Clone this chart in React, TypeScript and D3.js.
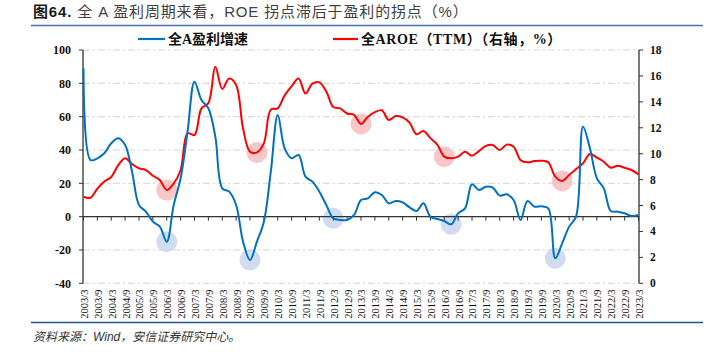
import React from "react";
import * as d3 from "d3";

// quarterly categories, 2003Q1 .. 2023Q1
const quarters = [
  "2003/3", "2003/6", "2003/9", "2003/12", "2004/3", "2004/6", "2004/9", "2004/12",
  "2005/3", "2005/6", "2005/9", "2005/12", "2006/3", "2006/6", "2006/9", "2006/12",
  "2007/3", "2007/6", "2007/9", "2007/12", "2008/3", "2008/6", "2008/9", "2008/12",
  "2009/3", "2009/6", "2009/9", "2009/12", "2010/3", "2010/6", "2010/9", "2010/12",
  "2011/3", "2011/6", "2011/9", "2011/12", "2012/3", "2012/6", "2012/9", "2012/12",
  "2013/3", "2013/6", "2013/9", "2013/12", "2014/3", "2014/6", "2014/9", "2014/12",
  "2015/3", "2015/6", "2015/9", "2015/12", "2016/3", "2016/6", "2016/9", "2016/12",
  "2017/3", "2017/6", "2017/9", "2017/12", "2018/3", "2018/6", "2018/9", "2018/12",
  "2019/3", "2019/6", "2019/9", "2019/12", "2020/3", "2020/6", "2020/9", "2020/12",
  "2021/3", "2021/6", "2021/9", "2021/12", "2022/3", "2022/6", "2022/9", "2022/12",
  "2023/3",
];

const xLabels = [
  "2003/3", "2003/9", "2004/3", "2004/9", "2005/3", "2005/9", "2006/3", "2006/9",
  "2007/3", "2007/9", "2008/3", "2008/9", "2009/3", "2009/9", "2010/3", "2010/9",
  "2011/3", "2011/9", "2012/3", "2012/9", "2013/3", "2013/9", "2014/3", "2014/9",
  "2015/3", "2015/9", "2016/3", "2016/9", "2017/3", "2017/9", "2018/3", "2018/9",
  "2019/3", "2019/9", "2020/3", "2020/9", "2021/3", "2021/9", "2022/3", "2022/9",
  "2023/3",
];

// 全A盈利增速 (left axis, %)
const profitGrowth = [
  89, 34, 35, 38, 44, 47, 43, 27, 7, 3, -3, -6, -15, 7, 23, 51,
  81, 70, 65, 48, 17, 15, 7, -15, -26, -15, -3, 27, 61, 41, 35, 37,
  24, 21, 15, 7, -1, -2, -2, 1, 10, 11, 14.6, 13, 8, 9.4, 8.6, 5.6,
  3.4, 8, 0, -1.4, -2.6, -4.6, 2, 5, 19.4, 16, 18, 17.4, 12.6, 13.4, 10, -2,
  9.4, 6, 6.2, 5, -25, -16, -6, 0, 54, 41, 23, 17, 3.4, 3, 2, 0.4,
  1,
];

// 全A ROE TTM (right axis, %)
const roeTTM = [
  6.68, 6.6, 7.3, 7.85, 8.2, 9.1, 9.64, 9.2, 8.87, 8.74, 8.3, 7.97, 7.2, 7.7, 8.74, 11.57,
  11.44, 13.5, 13.9, 16.7, 15.0, 15.8, 15.3, 11.95, 10.15, 10.1, 10.8, 13.4, 13.5, 14.5, 15.2, 15.8,
  14.65, 15.4, 15.5, 14.8, 13.6, 13.5, 13.1, 13.0, 12.3, 12.85, 13.2, 13.35, 12.6, 12.9, 12.8, 12.4,
  11.5, 11.75, 11.2, 10.7, 9.77, 9.64, 9.77, 10.15, 9.85, 10.2, 10.6, 10.67, 10.28, 10.7, 10.54, 9.5,
  9.33, 9.43, 9.46, 9.33, 8.23, 7.9, 8.35, 8.82, 9.25, 9.97, 9.7, 9.38, 8.92, 9.07, 8.92, 8.74,
  8.4,
];

// turning points highlighted with circles (quarter index)
const growthTroughs = [12, 24, 36, 53, 68];
const roeTroughs = [12, 25, 40, 52, 69];

const leftTicks = [-40, -20, 0, 20, 40, 60, 80, 100];
const rightTicks = [0, 2, 4, 6, 8, 10, 12, 14, 16, 18];

const W = 706;
const H = 354;
const plot = { left: 83.5, right: 638.5, top: 50, bottom: 283.3 };

const serif = "'Liberation Serif', 'Times New Roman', 'Noto Sans CJK SC', serif";
const sans = "'Liberation Sans', Arial, 'Noto Sans CJK SC', sans-serif";

export default function App() {
  const x = d3.scalePoint<string>().domain(quarters).range([plot.left, plot.right]);
  const yL = d3.scaleLinear().domain([-40, 100]).range([plot.bottom, plot.top]);
  const yR = d3.scaleLinear().domain([0, 18]).range([plot.bottom, plot.top]);

  const xi = (i: number) => x(quarters[i]) as number;

  const growthLine = d3
    .line<number>()
    .x((_, i) => xi(i))
    .y((d) => yL(d))
    .curve(d3.curveCatmullRom.alpha(0.5));

  const roeLine = d3
    .line<number>()
    .x((_, i) => xi(i))
    .y((d) => yR(d))
    .curve(d3.curveCatmullRom.alpha(0.5));

  const axisX0 = 83;
  const axisX1 = 639;
  const zeroY = yL(0);

  return (
    <svg width={W} height={H} style={{ position: "absolute", left: 0, top: 0, background: "#fff" }}>
      {/* title */}
      <text x={33} y={16.5} fontFamily={sans} fontSize={15} letterSpacing={0.85} fill="#404040">
        <tspan fontWeight="bold" fill="#1a1a1a">图64.</tspan>
        <tspan> 全 A 盈利周期来看，ROE 拐点滞后于盈利的拐点（%）</tspan>
      </text>
      <line x1={31} x2={703} y1={25.5} y2={25.5} stroke="#4a6fb5" strokeWidth={1.3} />

      {/* legend */}
      <line x1={138} x2={165} y1={39} y2={39} stroke="#0070C0" strokeWidth={2.2} />
      <text x={168} y={44} fontFamily={serif} fontWeight="bold" fontSize={14} fill="#111">
        全A盈利增速
      </text>
      <line x1={333} x2={358} y1={39} y2={39} stroke="#FF0000" strokeWidth={2.2} />
      <text x={361} y={44} fontFamily={serif} fontWeight="bold" fontSize={14} letterSpacing={0.6} fill="#111">
        全AROE（TTM）（右轴，%）
      </text>

      {/* gridlines */}
      {leftTicks.map((t) => (
        <line
          key={"g" + t}
          x1={axisX0}
          x2={axisX1}
          y1={yL(t)}
          y2={yL(t)}
          stroke="#d4d4d4"
          strokeWidth={1}
          strokeDasharray="7 3 2 3"
        />
      ))}

      {/* trough highlights */}
      {growthTroughs.map((i) => (
        <circle key={"bc" + i} cx={xi(i)} cy={yL(profitGrowth[i])} r={10.5} fill="#c9d6ee" opacity={0.85} />
      ))}
      {roeTroughs.map((i) => (
        <circle key={"rc" + i} cx={xi(i)} cy={yR(roeTTM[i])} r={10.5} fill="#f7b9b9" opacity={0.8} />
      ))}

      {/* axes */}
      <line x1={axisX0} x2={axisX0} y1={plot.top} y2={plot.bottom} stroke="#333" strokeWidth={1.3} />
      <line x1={axisX1} x2={axisX1} y1={plot.top} y2={plot.bottom} stroke="#333" strokeWidth={1.3} />
      <line x1={axisX0} x2={axisX1} y1={zeroY} y2={zeroY} stroke="#333" strokeWidth={1.3} />
      {quarters.map((q, i) =>
        i % 2 === 0 ? (
          <line key={"xt" + q} x1={xi(i)} x2={xi(i)} y1={zeroY} y2={zeroY + 4} stroke="#333" strokeWidth={1} />
        ) : null
      )}
      {leftTicks.map((t) => (
        <g key={"lt" + t}>
          <line x1={axisX0 - 4} x2={axisX0} y1={yL(t)} y2={yL(t)} stroke="#333" strokeWidth={1} />
          <text
            x={71}
            y={yL(t)}
            dy="0.35em"
            textAnchor="end"
            fontFamily={serif}
            fontWeight="bold"
            fontSize={12}
            fill="#111"
          >
            {t}
          </text>
        </g>
      ))}
      {rightTicks.map((t) => (
        <g key={"rt" + t}>
          <line x1={axisX1} x2={axisX1 + 4} y1={yR(t)} y2={yR(t)} stroke="#333" strokeWidth={1} />
          <text
            x={650}
            y={yR(t)}
            dy="0.35em"
            textAnchor="start"
            fontFamily={serif}
            fontWeight="bold"
            fontSize={11.5}
            fill="#111"
          >
            {t}
          </text>
        </g>
      ))}
      {xLabels.map((l) => (
        <text
          key={"xl" + l}
          transform={`translate(${(x(l) as number) + 0.8},289.5) rotate(-90)`}
          dy="0.35em"
          textAnchor="end"
          fontFamily={serif}
          fontSize={10.5}
          fill="#111"
        >
          {l}
        </text>
      ))}

      {/* series */}
      <path d={roeLine(roeTTM) || ""} fill="none" stroke="#FF0000" strokeWidth={2} />
      <path d={growthLine(profitGrowth) || ""} fill="none" stroke="#0070C0" strokeWidth={2} />

      {/* footer */}
      <line x1={31} x2={703} y1={322.5} y2={322.5} stroke="#2a4f9a" strokeWidth={1.3} />
      <text x={33} y={341} fontFamily={sans} fontStyle="italic" fontSize={12} fill="#333">
        资料来源：Wind，安信证券研究中心。
      </text>
    </svg>
  );
}
